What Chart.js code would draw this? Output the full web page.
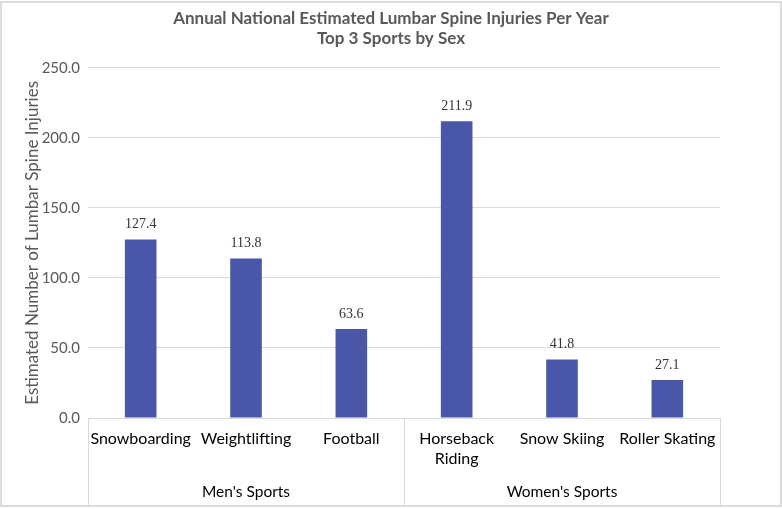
<!DOCTYPE html>
<html>
<head>
<meta charset="utf-8">
<script src="https://cdn.jsdelivr.net/npm/chart.js@4"></script>
<style>
  html, body { margin: 0; padding: 0; background: #fff; }
  #wrap { width: 782px; height: 509px; position: relative; }
</style>
</head>
<body>
<div id="wrap"><canvas id="injuryChart"></canvas></div>
<script>
// data
const sports = ["Snowboarding", "Weightlifting", "Football", ["Horseback", "Riding"], "Snow Skiing", "Roller Skating"];
const injuries = [127.4, 113.8, 63.6, 211.9, 41.8, 27.1];
const groupNames = ["Men's Sports", "Women's Sports"];
const groupSizes = [3, 3];
const yTicks = [0, 50, 100, 150, 200, 250];

const gray = "#595959";
const lineGray = "#d9d9d9";

// value labels above each bar (serif, like the original)
const barLabels = {
    id: "barLabels",
    afterDatasetsDraw(chart) {
        const ctx = chart.ctx;
        const meta = chart.getDatasetMeta(0);
        ctx.save();
        ctx.font = "14px 'Liberation Serif', serif";
        ctx.fillStyle = "#333";
        ctx.textAlign = "center";
        ctx.textBaseline = "middle";
        meta.data.forEach((bar, i) => {
            ctx.fillText(injuries[i].toFixed(1), bar.x, bar.y - 15);
        });
        ctx.restore();
    }
};

// second level of the category axis: group boxes + names
const groupAxis = {
    id: "groupAxis",
    afterDraw(chart) {
        const ctx = chart.ctx;
        const x = chart.scales.x;
        const top = x.top;
        const bottom = 505;
        const half = (x.getPixelForValue(1) - x.getPixelForValue(0)) / 2;
        ctx.save();
        ctx.strokeStyle = lineGray;
        ctx.lineWidth = 1;
        ctx.font = "15.5px Lato";
        ctx.fillStyle = "#000";
        ctx.textAlign = "center";
        ctx.textBaseline = "middle";
        let start = 0;
        groupSizes.forEach((n, g) => {
            const x0 = x.getPixelForValue(start) - half;
            const x1 = x.getPixelForValue(start + n - 1) + half;
            ctx.beginPath();
            ctx.moveTo(Math.round(x0) + 0.5, top);
            ctx.lineTo(Math.round(x0) + 0.5, bottom);
            ctx.moveTo(Math.round(x1) + 0.5, top);
            ctx.lineTo(Math.round(x1) + 0.5, bottom);
            ctx.stroke();
            ctx.fillText(groupNames[g], (x0 + x1) / 2, 492);
            start += n;
        });
        ctx.restore();
    }
};

// light frame round the picture
const frame = {
    id: "frame",
    beforeDraw(chart) {
        const ctx = chart.ctx;
        ctx.save();
        ctx.fillStyle = "#fff";
        ctx.fillRect(0, 0, chart.width, chart.height);
        ctx.strokeStyle = "#dcdcdc";
        ctx.lineWidth = 2;
        ctx.strokeRect(1, 2, chart.width - 2, chart.height - 5);
        ctx.restore();
    }
};

new Chart(document.getElementById("injuryChart"), {
    type: "bar",
    data: {
        labels: sports,
        datasets: [{
            data: injuries,
            backgroundColor: "#4a57a9",
            categoryPercentage: 1,
            barPercentage: 0.3
        }]
    },
    options: {
        responsive: true,
        maintainAspectRatio: false,
        animation: false,
        layout: { padding: 0 },
        plugins: {
            legend: { display: false },
            tooltip: { enabled: false },
            title: {
                display: true,
                text: ["Annual National Estimated Lumbar Spine Injuries Per Year", "Top 3 Sports by Sex"],
                color: gray,
                font: { family: "Lato", size: 17, weight: "bold", lineHeight: 1.2 },
                padding: { top: 8, bottom: 19 }
            }
        },
        scales: {
            x: {
                grid: { display: false, drawTicks: false },
                border: { display: true, color: lineGray },
                ticks: {
                    color: "#000",
                    font: { family: "Lato", size: 16, lineHeight: 1.3 },
                    padding: 10,
                    maxRotation: 0,
                    autoSkip: false
                },
                afterFit(scale) { scale.height = 91; }
            },
            y: {
                min: 0,
                max: 250,
                afterBuildTicks(scale) { scale.ticks = yTicks.map(v => ({ value: v })); },
                grid: { color: lineGray, drawTicks: false },
                border: { display: false },
                ticks: {
                    color: gray,
                    font: { family: "Lato", size: 15 },
                    padding: 8,
                    callback: v => v.toFixed(1)
                },
                title: {
                    display: true,
                    text: "Estimated Number of Lumbar Spine Injuries",
                    color: gray,
                    font: { family: "Lato", size: 17 },
                    padding: { top: 22, bottom: 0 }
                },
                afterFit(scale) { scale.width = 88; }
            },
            // empty right-hand margin, keeps the title centred on the whole picture
            yRight: {
                position: "right",
                display: true,
                grid: { display: false, drawTicks: false },
                border: { display: false },
                ticks: { display: false },
                afterFit(scale) { scale.width = 62; }
            }
        }
    },
    plugins: [frame, barLabels, groupAxis]
});
</script>
</body>
</html>
